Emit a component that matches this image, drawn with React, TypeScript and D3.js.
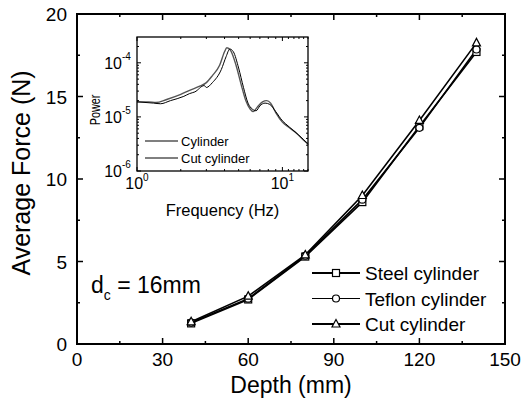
import React from "react";
import * as d3 from "d3";

const depths = [40, 60, 80, 100, 120, 140];
const steel = [1.25, 2.7, 5.3, 8.6, 13.2, 17.7];
const teflon = [1.3, 2.75, 5.35, 8.75, 13.1, 17.85];
const cut = [1.35, 2.9, 5.4, 9.0, 13.55, 18.25];
const seriesNames = ["Steel cylinder", "Teflon cylinder", "Cut cylinder"];
const xTicks = [0, 30, 60, 90, 120, 150];
const yTicks = [0, 5, 10, 15, 20];

const cylFreq = [1.0, 1.2, 1.35, 1.6, 2.0, 2.3, 2.7, 3.0, 3.3, 3.7, 4.0, 4.15, 4.4, 4.8, 5.2, 5.6, 6.0, 6.3, 6.7, 7.3, 7.8, 8.3, 9.0, 10, 11, 12.5, 14, 15];
const cylPow = [1.9e-5, 1.9e-5, 1.85e-5, 2.1e-5, 2.6e-5, 3.1e-5, 3.7e-5, 4.3e-5, 5.8e-5, 9e-5, 1.6e-4, 1.9e-4, 1.7e-4, 9e-5, 4e-5, 2e-5, 1.4e-5, 1.25e-5, 1.5e-5, 1.9e-5, 2.0e-5, 1.8e-5, 1.2e-5, 8e-6, 6.5e-6, 5e-6, 3.7e-6, 3.2e-6];
const cutFreq = [1.0, 1.3, 1.45, 1.7, 2.1, 2.3, 2.5, 2.9, 3.0, 3.3, 3.8, 4.1, 4.35, 4.6, 5.0, 5.4, 5.8, 6.2, 6.6, 7.0, 7.6, 8.2, 9.0, 10, 10.5, 12, 14, 15];
const cutPow = [1.9e-5, 1.8e-5, 1.75e-5, 2.0e-5, 2.4e-5, 2.7e-5, 2.9e-5, 3.8e-5, 3.5e-5, 4.3e-5, 7.5e-5, 1.3e-4, 1.8e-4, 1.6e-4, 8e-5, 3.5e-5, 1.8e-5, 1.4e-5, 1.3e-5, 1.6e-5, 1.8e-5, 1.7e-5, 1.25e-5, 8.5e-6, 7.5e-6, 5.5e-6, 3.8e-6, 3.1e-6];
const insetNames = ["Cylinder", "Cut cylinder"];

const FONT = "'Liberation Sans', Arial, Helvetica, sans-serif";

function Marker({ kind, x, y }: { kind: number; x: number; y: number }) {
  const s = 3.5;
  if (kind === 0)
    return <rect x={x - s} y={y - s} width={2 * s} height={2 * s} fill="white" stroke="black" strokeWidth={1.2} />;
  if (kind === 1) return <circle cx={x} cy={y} r={s} fill="white" stroke="black" strokeWidth={1.2} />;
  return (
    <path
      d={`M${x},${y - s - 1}L${x + s + 0.5},${y + s - 0.5}L${x - s - 0.5},${y + s - 0.5}Z`}
      fill="white"
      stroke="black"
      strokeWidth={1.2}
    />
  );
}

export default function App() {
  const W = 523, H = 405;
  const L = 77, R = 505, T = 14, B = 344;
  const x = d3.scaleLinear().domain([0, 150]).range([L, R]);
  const y = d3.scaleLinear().domain([0, 20]).range([B, T]);
  const allSeries = [steel, teflon, cut];
  const line = d3.line<number>().x((_, i) => x(depths[i])).y((d) => y(d));

  const iL = 137, iR = 308, iT = 37, iB = 171;
  const ix = d3.scaleLog().domain([1, 15]).range([iL, iR]);
  const iy = d3.scaleLog().domain([1e-6, 3e-4]).range([iB, iT]);
  const ixMinor: number[] = [];
  for (let m = 2; m <= 15; m++) if (m !== 10) ixMinor.push(m);
  const iyMinor: number[] = [];
  for (let e = -6; e <= -4; e++) for (let m = 2; m <= 9; m++) { const v = m * Math.pow(10, e); if (v <= 3e-4) iyMinor.push(v); }
  const iline = (fs: number[], ps: number[]) =>
    d3.line<number>().x((_, i) => ix(fs[i])).y((p) => iy(p)).curve(d3.curveMonotoneX)(ps) || "";

  const xMinor = [15, 45, 75, 105, 135];
  const yMinor = [2.5, 7.5, 12.5, 17.5];

  return (
    <svg width={W} height={H} style={{ position: "absolute", left: 0, top: 0 }} fontFamily={FONT}>
      <rect width={W} height={H} fill="white" />
      {/* main ticks */}
      {xTicks.map((t) => (
        <g key={"xt" + t}>
          <line x1={x(t)} x2={x(t)} y1={B} y2={B - 6} stroke="black" strokeWidth={1.5} />
          <line x1={x(t)} x2={x(t)} y1={T} y2={T + 6} stroke="black" strokeWidth={1.5} />
          <text x={x(t)} y={B + 22} textAnchor="middle" fontSize={19}>{t}</text>
        </g>
      ))}
      {xMinor.map((t) => (
        <g key={"xm" + t}>
          <line x1={x(t)} x2={x(t)} y1={B} y2={B - 3} stroke="black" strokeWidth={1.5} />
          <line x1={x(t)} x2={x(t)} y1={T} y2={T + 3} stroke="black" strokeWidth={1.5} />
        </g>
      ))}
      {yTicks.map((t) => (
        <g key={"yt" + t}>
          <line x1={L} x2={L + 6} y1={y(t)} y2={y(t)} stroke="black" strokeWidth={1.5} />
          <line x1={R} x2={R - 6} y1={y(t)} y2={y(t)} stroke="black" strokeWidth={1.5} />
          <text x={L - 10} y={y(t) + 7} textAnchor="end" fontSize={19}>{t}</text>
        </g>
      ))}
      {yMinor.map((t) => (
        <g key={"ym" + t}>
          <line x1={L} x2={L + 3} y1={y(t)} y2={y(t)} stroke="black" strokeWidth={1.5} />
          <line x1={R} x2={R - 3} y1={y(t)} y2={y(t)} stroke="black" strokeWidth={1.5} />
        </g>
      ))}
      <rect x={L} y={T} width={R - L} height={B - T} fill="none" stroke="black" strokeWidth={2} />
      <text x={(L + R) / 2} y={393} textAnchor="middle" fontSize={23}>Depth (mm)</text>
      <text transform={`translate(30,173) rotate(-90)`} textAnchor="middle" fontSize={25}>Average Force (N)</text>
      <text x={91} y={293} fontSize={23}>
        d<tspan fontSize={14} dy={7}>c</tspan><tspan dy={-7}> = 16mm</tspan>
      </text>

      {/* series */}
      {allSeries.map((s, k) => (
        <path key={"l" + k} d={line(s) || ""} fill="none" stroke="black" strokeWidth={1.6} />
      ))}
      {allSeries.map((s, k) => s.map((v, i) => <Marker key={`m${k}-${i}`} kind={k} x={x(depths[i])} y={y(v)} />))}

      {/* legend */}
      {seriesNames.map((n, k) => {
        const ly = 273 + k * 25.5;
        return (
          <g key={"lg" + k}>
            <line x1={312} x2={360} y1={ly} y2={ly} stroke="black" strokeWidth={k === 1 ? 1.2 : 1.8} />
            <Marker kind={k} x={336} y={ly} />
            <text x={365} y={ly + 7} fontSize={19}>{n}</text>
          </g>
        );
      })}

      {/* inset */}
      <rect x={iL} y={iT} width={iR - iL} height={iB - iT} fill="white" stroke="none" />
      <path d={iline(cylFreq, cylPow)} fill="none" stroke="#555" strokeWidth={1.4} />
      <path d={iline(cutFreq, cutPow)} fill="none" stroke="black" strokeWidth={1} />
      {[1, 10].map((t) => (
        <g key={"ixt" + t}>
          <line x1={ix(t)} x2={ix(t)} y1={iB} y2={iB - 4} stroke="black" />
          <line x1={ix(t)} x2={ix(t)} y1={iT} y2={iT + 4} stroke="black" />
          <text x={ix(t)} y={iB + 18} textAnchor="middle" fontSize={16}>
            10<tspan fontSize={10} dy={-8}>{t === 1 ? "0" : "1"}</tspan>
          </text>
        </g>
      ))}
      {ixMinor.map((t) => (
        <g key={"ixm" + t}>
          <line x1={ix(t)} x2={ix(t)} y1={iB} y2={iB - 2} stroke="black" />
          <line x1={ix(t)} x2={ix(t)} y1={iT} y2={iT + 2} stroke="black" />
        </g>
      ))}
      {[1e-6, 1e-5, 1e-4].map((t, i) => (
        <g key={"iyt" + i}>
          <line x1={iL} x2={iL + 4} y1={iy(t)} y2={iy(t)} stroke="black" />
          <line x1={iR} x2={iR - 4} y1={iy(t)} y2={iy(t)} stroke="black" />
          <text x={iL - 15} y={iy(t) + 6} textAnchor="end" fontSize={16}>10</text>
          <text x={iL - 15} y={iy(t) - 3} textAnchor="start" fontSize={10}>{-6 + i}</text>
        </g>
      ))}
      {iyMinor.map((t, i) => (
        <g key={"iym" + i}>
          <line x1={iL} x2={iL + 2} y1={iy(t)} y2={iy(t)} stroke="black" />
          <line x1={iR} x2={iR - 2} y1={iy(t)} y2={iy(t)} stroke="black" />
        </g>
      ))}
      <rect x={iL} y={iT} width={iR - iL} height={iB - iT} fill="none" stroke="black" strokeWidth={1.3} />
      <text x={(iL + iR) / 2} y={216} textAnchor="middle" fontSize={16.5}>Frequency (Hz)</text>
      <text transform={`translate(100,110) rotate(-90) scale(0.72,1)`} textAnchor="middle" fontSize={15}>Power</text>
      {insetNames.map((n, k) => {
        const ly = 141 + k * 17;
        return (
          <g key={"ilg" + k}>
            <line x1={145} x2={178} y1={ly} y2={ly} stroke={k === 0 ? "#555" : "black"} strokeWidth={k === 0 ? 1.4 : 1} />
            <text x={181} y={ly + 4.5} fontSize={13}>{n}</text>
          </g>
        );
      })}
    </svg>
  );
}
